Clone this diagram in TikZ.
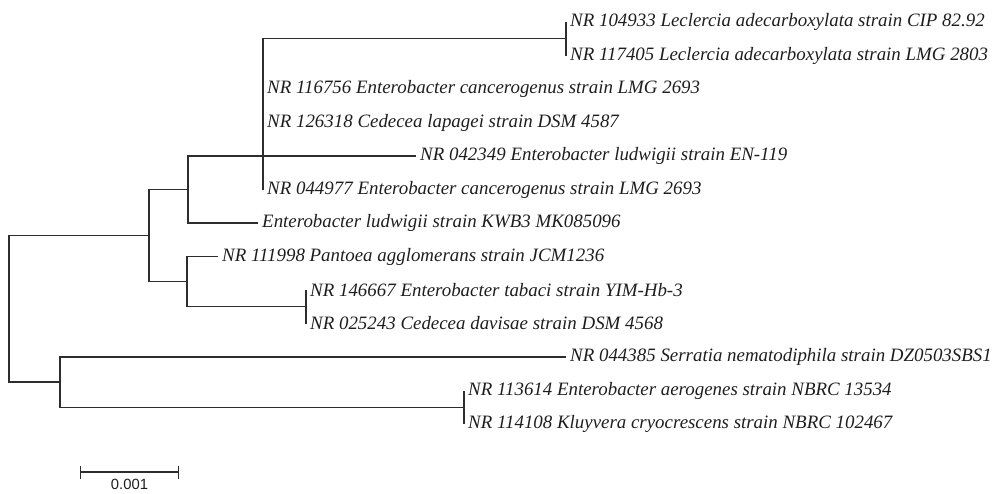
\documentclass[tikz,border=0pt]{standalone}
\usepackage{fontspec}
\setmainfont{Liberation Serif}
\newfontfamily\barfont{Liberation Sans}
\usepackage{xcolor}
\definecolor{branchgrey}{RGB}{45,45,45}
\definecolor{taxonink}{RGB}{30,30,30}
\usetikzlibrary{arrows.meta,positioning}
\tikzset{
  branch/.style={draw=branchgrey, line width=1.2pt},
  taxon/.style={anchor=west, inner xsep=4pt, inner ysep=0pt, text=taxonink,
                font=\fontsize{18.9}{20}\selectfont\itshape},
  barlabel/.style={inner sep=0pt, text=taxonink, font=\barfont\fontsize{14.8}{16}\selectfont},
}

\begin{document}
\begin{tikzpicture}[x=1pt,y=-1pt]
\useasboundingbox (0,0) rectangle (993,493);

\node[taxon] (lec1) at (566,22) {NR 104933 Leclercia adecarboxylata strain CIP 82.92};
\node[taxon] (lec2) at (566,55.5) {NR 117405 Leclercia adecarboxylata strain LMG 2803};
\node[taxon] (canc1) at (263,89) {NR 116756 Enterobacter cancerogenus strain LMG 2693};
\node[taxon] (lapa) at (263,122.5) {NR 126318 Cedecea lapagei strain DSM 4587};
\node[taxon] (ludw1) at (416,156) {NR 042349 Enterobacter ludwigii strain EN-119};
\node[taxon] (canc2) at (263,189.5) {NR 044977 Enterobacter cancerogenus strain LMG 2693};
\node[taxon] (ludw2) at (258,223) {Enterobacter ludwigii strain KWB3 MK085096};
\node[taxon] (pant) at (218,256.5) {NR 111998 Pantoea agglomerans strain JCM1236};
\node[taxon] (taba) at (306,290) {NR 146667 Enterobacter tabaci strain YIM-Hb-3};
\node[taxon] (davi) at (306,323.5) {NR 025243 Cedecea davisae strain DSM 4568};
\node[taxon] (serr) at (566,357) {NR 044385 Serratia nematodiphila strain DZ0503SBS1};
\node[taxon] (aero) at (464,390.5) {NR 113614 Enterobacter aerogenes strain NBRC 13534};
\node[taxon] (kluy) at (464,424) {NR 114108 Kluyvera cryocrescens strain NBRC 102467};

\coordinate (leccl) at (566,38.75);
\coordinate (enta) at (263,156);
\coordinate (entb) at (188,189.5);
\coordinate (tabcl) at (306,306.75);
\coordinate (pancl) at (187,281.6);
\coordinate (entc) at (149,235.5);
\coordinate (aercl) at (464,407.25);
\coordinate (outg) at (60,382);
\coordinate (root) at (9,308.8);

\draw[branch] (root) |- (entc) (root) |- (outg)
  (entc) |- (entb) (entc) |- (pancl)
  (entb) |- (enta) (entb) |- (ludw2.west)
  (enta) |- (leccl) (enta) |- (canc1.west) (enta) |- (lapa.west)
  (enta) |- (ludw1.west) (enta) |- (canc2.west)
  (leccl) |- (lec1.west) (leccl) |- (lec2.west)
  (pancl) |- (pant.west) (pancl) |- (tabcl)
  (tabcl) |- (taba.west) (tabcl) |- (davi.west)
  (outg) |- (serr.west) (outg) |- (aercl)
  (aercl) |- (aero.west) (aercl) |- (kluy.west);

\coordinate (barl) at (80,472);
\coordinate (barr) at (179,472);
\draw[branch, {Bar[width=13pt]}-{Bar[width=13pt]}] (barl) -- (barr)
  node[barlabel, midway, below=7pt] (barlab) {0.001};
\end{tikzpicture}
\end{document}
